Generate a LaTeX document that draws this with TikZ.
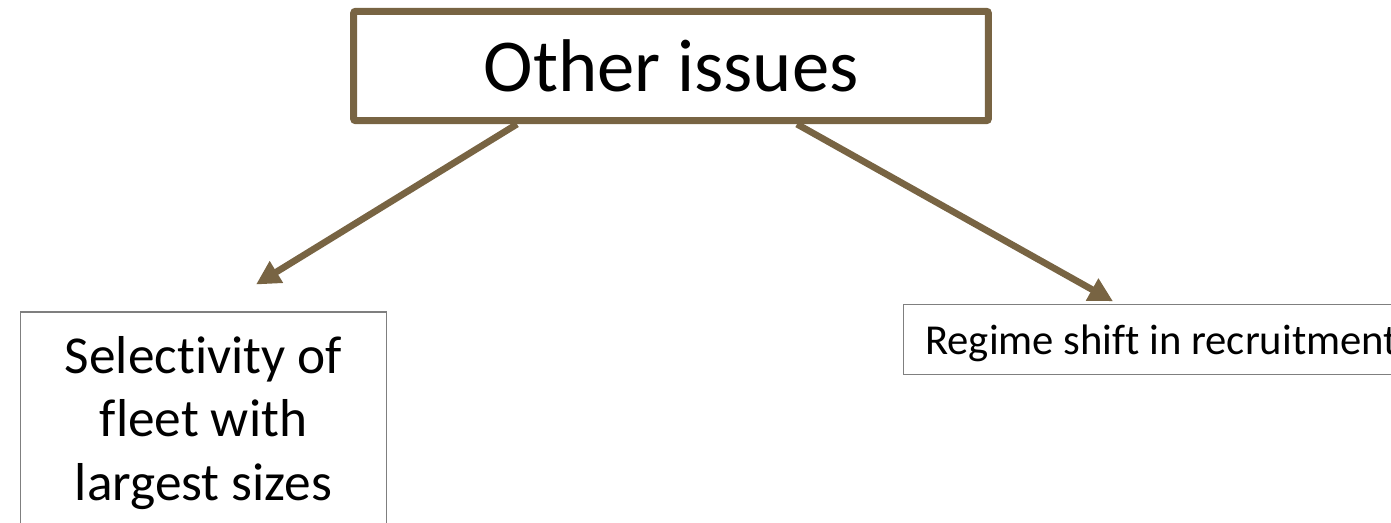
\documentclass[tikz,border=0pt]{standalone}
\usepackage{fontspec}
\setmainfont{Carlito}[Ligatures=NoCommon]
\usetikzlibrary{positioning,arrows.meta,calc}
\definecolor{issbrown}{HTML}{786443}
\definecolor{issgray}{HTML}{7F7F7F}
\tikzset{
  head/.style ={draw=issbrown,line width=5.25pt,rounded corners=1.5pt,fill=white,align=center,inner sep=0pt,font=\fontsize{56}{67}\selectfont},
  leaf/.style ={draw=issgray,line width=1.1pt,fill=white,inner sep=0pt},
  arr/.style  ={-{Triangle[length=18pt,width=18pt]},line width=5pt,draw=issbrown},
}

\begin{document}
\begin{tikzpicture}[x=0.75pt,y=-0.75pt]
  \useasboundingbox (0,0) rectangle (1391,523);

  \node[head, minimum width=476pt, minimum height=82pt] (top) at (671,66) {Other issues};

  \node[leaf, anchor=north, minimum width=274.5pt, minimum height=166pt, align=center,
        font=\fontsize{40}{47.5}\selectfont] (sel) at (203.5,311.5)
        {Selectivity of\\fleet with\\largest sizes};
  \node[leaf, anchor=west, minimum height=52.5pt, text width=420pt, align=flush left,
        text depth=0pt, inner xsep=16.5pt, font=\fontsize{32}{38}\selectfont] (reg) at (902.5,339.5)
        {Regime shift in recruitment};

  % two branches out of the header
  \draw[arr] ($(top.south)+(-154,0)$) -- ($(sel.north)+(52.5,-27)$);
  \draw[arr] ($(top.south)+(126,0)$) -- ($(reg.north west)+(210.5,-2.5)$);
\end{tikzpicture}
\end{document}
